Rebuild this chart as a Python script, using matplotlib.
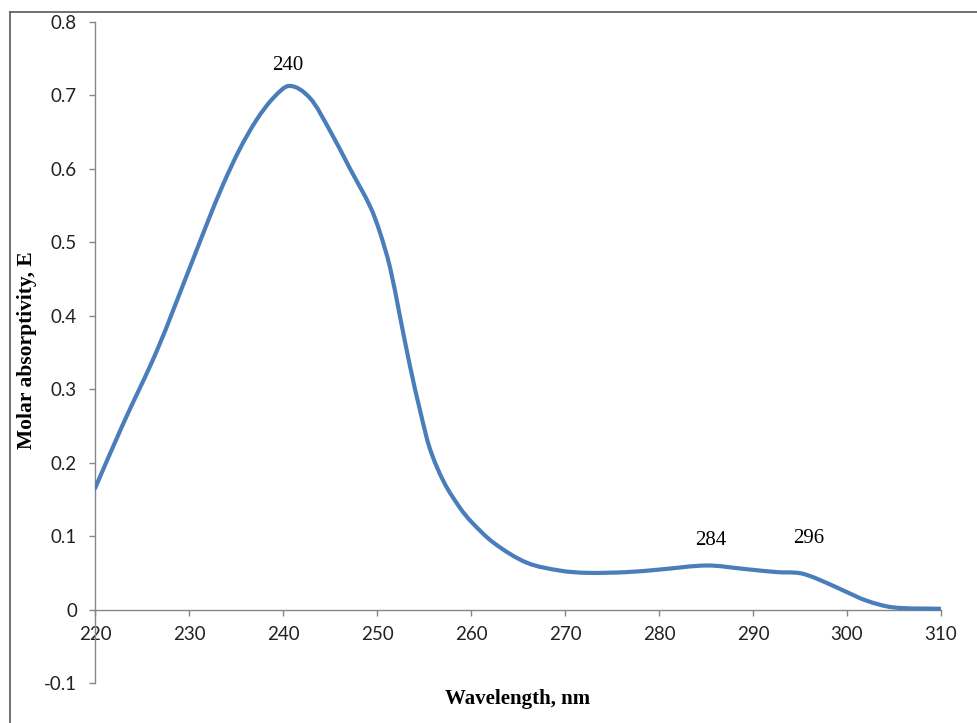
import matplotlib
matplotlib.use("Agg")
import matplotlib.pyplot as plt
from matplotlib.path import Path
from matplotlib.patches import PathPatch
from matplotlib.lines import Line2D
import numpy as np

# ---- data ----
wavelength = [220.0, 223.0, 226.6, 230.1, 231.9, 233.6, 235.4, 237.2, 239.0, 240.7,
              242.9, 245.0, 247.1, 249.3, 250.3, 251.4, 252.4, 253.5, 254.6, 255.6,
              257.1, 258.8, 260.0, 262.4, 265.9, 269.5, 272.3, 276.6, 280.1, 285.1,
              289.0, 292.5, 295.0, 296.8, 299.6, 302.1, 304.9, 310.0]
absorptivity = [0.165, 0.253, 0.353, 0.466, 0.525, 0.578, 0.627, 0.667, 0.697, 0.713,
                0.696, 0.652, 0.601, 0.548, 0.514, 0.465, 0.402, 0.332, 0.270, 0.220,
                0.174, 0.139, 0.120, 0.091, 0.064, 0.053, 0.050, 0.051, 0.0545, 0.060,
                0.0554, 0.051, 0.0495, 0.042, 0.026, 0.012, 0.003, 0.001]
peak_labels = ["240", "284", "296"]
x_ticks = [220, 230, 240, 250, 260, 270, 280, 290, 300, 310]
y_ticks = [-0.1, 0, 0.1, 0.2, 0.3, 0.4, 0.5, 0.6, 0.7, 0.8]
y_tick_labels = ["-0.1", "0", "0.1", "0.2", "0.3", "0.4", "0.5", "0.6", "0.7", "0.8"]

W, H = 977, 723
fig = plt.figure(figsize=(W / 100, H / 100), dpi=100)

ax = fig.add_axes([95 / W, 40 / H, (941 - 95) / W, (683 - 22) / H])
ax.set_xlim(220, 310)
ax.set_ylim(-0.1, 0.8)

# smooth curve (cubic Hermite in x -> Bezier), drawn by matplotlib's Path
xs = np.array(wavelength)
ys = np.array(absorptivity)
n = len(xs)
slopes = np.empty(n)
slopes[0] = (ys[1] - ys[0]) / (xs[1] - xs[0])
slopes[-1] = (ys[-1] - ys[-2]) / (xs[-1] - xs[-2])
for i in range(1, n - 1):
    slopes[i] = (ys[i + 1] - ys[i - 1]) / (xs[i + 1] - xs[i - 1])
verts = [(xs[0], ys[0])]
codes = [Path.MOVETO]
for i in range(n - 1):
    h = xs[i + 1] - xs[i]
    c1 = (xs[i] + h / 3, ys[i] + slopes[i] * h / 3)
    c2 = (xs[i + 1] - h / 3, ys[i + 1] - slopes[i + 1] * h / 3)
    verts += [c1, c2, (xs[i + 1], ys[i + 1])]
    codes += [Path.CURVE4] * 3
patch = PathPatch(Path(verts, codes), facecolor="none", edgecolor="#4A7EBB",
                  linewidth=3.0, capstyle="round", joinstyle="round", zorder=3)
ax.add_patch(patch)

# axes styling (Excel-like)
axis_color = "#868686"
for s in ["top", "right"]:
    ax.spines[s].set_visible(False)
ax.spines["left"].set_color(axis_color)
ax.spines["bottom"].set_color(axis_color)
ax.spines["bottom"].set_position(("data", 0))
ax.spines["left"].set_linewidth(1.0)
ax.spines["bottom"].set_linewidth(1.0)

tick_font = dict(family="Lato", size=13.5)
ax.set_xticks(x_ticks)
ax.set_xticklabels([str(t) for t in x_ticks], fontdict=tick_font, color="#222222")
ax.set_yticks(y_ticks)
ax.set_yticklabels(y_tick_labels, fontdict=tick_font, color="#222222")
ax.tick_params(axis="both", direction="out", length=4, width=1.0, color=axis_color)
ax.tick_params(axis="y", pad=9)
ax.tick_params(axis="x", pad=8)

# peak labels
serif = dict(family="Liberation Serif", size=15, color="black")
ax.annotate(peak_labels[0], xy=(240.5, 0.713), xytext=(0, 8), textcoords="offset points",
            ha="center", va="bottom", **serif)
ax.annotate(peak_labels[1], xy=(285.5, 0.060), xytext=(0, 11), textcoords="offset points",
            ha="center", va="bottom", **serif)
ax.annotate(peak_labels[2], xy=(295.9, 0.0495), xytext=(0, 18), textcoords="offset points",
            ha="center", va="bottom", **serif)

# axis titles
fig.text(518 / W, 1 - 699 / H, "Wavelength, nm", ha="center", va="center",
         family="Liberation Serif", weight="bold", size=15)
fig.text(27 / W, 1 - 350 / H, "Molar absorptivity, E", ha="center", va="center",
         rotation=90, family="Liberation Serif", weight="bold", size=15.5)

# chart-area frame (left and top edges visible)
frame_color = "#595959"
fig.add_artist(Line2D([9.5 / W, 9.5 / W], [0, 1 - 11.5 / H], transform=fig.transFigure,
                      color=frame_color, linewidth=1.2))
fig.add_artist(Line2D([9.5 / W, 1], [1 - 11.5 / H, 1 - 11.5 / H], transform=fig.transFigure,
                      color=frame_color, linewidth=1.2))

fig.savefig("out.png", dpi=100)
